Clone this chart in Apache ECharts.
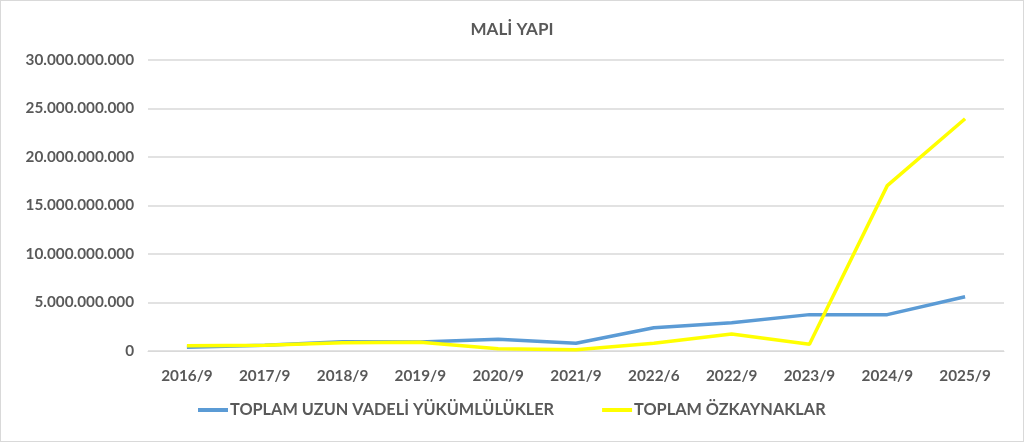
<!DOCTYPE html>
<html>
<head>
<meta charset="utf-8">
<script src="https://cdn.jsdelivr.net/npm/echarts@6/dist/echarts.min.js"></script>
<style>
  html, body { margin: 0; padding: 0; background: #fff; }
  #chart { width: 1022px; height: 440px; border: 1px solid #d9d9d9; }
</style>
</head>
<body>
<div id="chart"></div>
<script>
// periods
const categories = ["2016/9", "2017/9", "2018/9", "2019/9", "2020/9", "2021/9", "2022/6", "2022/9", "2023/9", "2024/9", "2025/9"];
// TOPLAM UZUN VADELİ YÜKÜMLÜLÜKLER
const uzunVadeli = [380000000, 600000000, 960000000, 930000000, 1200000000, 800000000, 2400000000, 2920000000, 3750000000, 3750000000, 5600000000];
// TOPLAM ÖZKAYNAKLAR
const ozkaynak = [550000000, 600000000, 860000000, 900000000, 240000000, 140000000, 790000000, 1750000000, 690000000, 17050000000, 23940000000];
const yTicks = [0, 5000000000, 10000000000, 15000000000, 20000000000, 25000000000, 30000000000];

const fmt = v => v === 0 ? "0" : String(v).replace(/\B(?=(\d{3})+(?!\d))/g, ".");
const font = "Lato, 'Open Sans', sans-serif";

let myChart = echarts.init(document.getElementById("chart"));
myChart.setOption({
  animation: false,
  title: {
    text: "MALİ YAPI",
    left: "center",
    top: 15,
    textStyle: { fontFamily: font, fontSize: 17, fontWeight: "bold", color: "#595959" }
  },
  grid: { left: 147, right: 19, top: 59, bottom: 90 },
  legend: {
    bottom: 18,
    left: 192,
    itemGap: 48,
    itemWidth: 30,
    itemHeight: 4,
    icon: "rect",
    textStyle: { fontFamily: font, fontSize: 16.3, fontWeight: "bold", color: "#595959", padding: [0, 0, 0, -3] }
  },
  xAxis: {
    type: "category",
    data: categories,
    boundaryGap: true,
    axisLine: { lineStyle: { color: "#d9d9d9" } },
    axisTick: { show: false },
    axisLabel: { margin: 18, fontFamily: font, fontSize: 15.3, fontWeight: "bold", color: "#595959" }
  },
  yAxis: {
    type: "value",
    min: yTicks[0],
    max: yTicks[yTicks.length - 1],
    interval: yTicks[1] - yTicks[0],
    axisLabel: { margin: 14, formatter: fmt, fontFamily: font, fontSize: 15.3, fontWeight: "bold", color: "#595959" },
    splitLine: { lineStyle: { color: "#d9d9d9", width: 1.5 } }
  },
  series: [
    {
      name: "TOPLAM UZUN VADELİ YÜKÜMLÜLÜKLER",
      type: "line",
      data: uzunVadeli,
      symbol: "none",
      color: "#5b9bd5",
      lineStyle: { width: 3.5, color: "#5b9bd5" }
    },
    {
      name: "TOPLAM ÖZKAYNAKLAR",
      type: "line",
      data: ozkaynak,
      symbol: "none",
      color: "#ffff00",
      lineStyle: { width: 3.5, color: "#ffff00" }
    }
  ]
});
</script>
</body>
</html>
